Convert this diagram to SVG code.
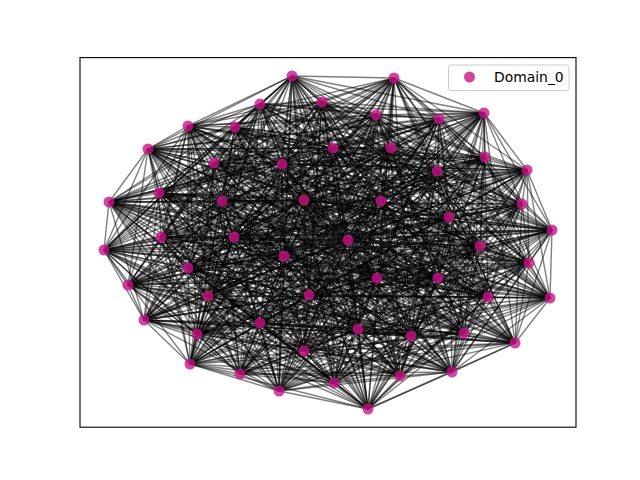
<svg xmlns="http://www.w3.org/2000/svg" width="640" height="480" viewBox="0 0 640 480">
<style>
.e path{fill:none;stroke:#000;stroke-opacity:0.5;stroke-width:1.4;stroke-linejoin:round}
.n{fill:#C71585;fill-opacity:0.8}
.t{font-family:"DejaVu Sans","Liberation Sans",sans-serif;font-size:13.9px;fill:#000}
</style>
<rect width="640" height="480" fill="#fff"/>
<g id="edges" class="e">
<path d="M480 246 529 263 550 298 438 278 488 297 515 343 464 333 377 278 452 372 411 336 400 376 358 329 368 409 334 383 304 351 279 391 309 295 240 374 260 323"/>
<path d="M260 323 190 364 197 334 208 296 144 320 284 256 128 285 188 268 104 250 161 237 234 237 109 202 159 193 222 201 148 149 214 163 188 126 235 127 282 164"/>
<path d="M282 164 304 200 260 104 292 76 322 102 333 148 376 115 394 78 391 148 439 119 484 113 381 201 437 171 485 157 527 170 449 217 522 204 348 240 552 230 480 246"/>
<path d="M480 246 550 298 488 297 464 333 452 372 400 376 368 409 304 351 309 295 260 323 197 334 144 320 128 285 104 250 234 237 159 193 148 149 188 126 282 164"/>
<path d="M282 164 260 104 322 102 376 115 391 148 484 113 437 171 527 170 522 204 552 230 529 263 438 278 515 343 377 278 411 336 358 329 334 383 279 391 240 374"/>
<path d="M240 374 190 364 208 296 284 256 188 268 161 237 109 202 222 201 214 163 235 127 304 200 292 76 333 148 394 78 439 119 381 201 485 157 449 217 348 240 480 246"/>
<path d="M480 246 438 278 464 333 411 336 368 409 279 391 260 323 208 296 128 285 161 237 159 193 214 163 282 164 292 76 376 115 439 119 437 171 449 217 552 230"/>
<path d="M552 230 550 298 515 343 452 372 358 329 304 351 240 374 197 334 284 256 104 250 109 202 148 149 235 127 260 104 333 148 391 148 381 201 527 170 348 240"/>
<path d="M348 240 529 263 488 297 377 278 400 376 334 383 309 295 190 364 144 320 188 268 234 237 222 201 188 126 304 200 322 102 394 78 484 113 485 157 522 204 480 246"/>
<path d="M480 246 488 297 452 372 368 409 309 295 197 334 128 285 234 237 148 149 282 164 322 102 391 148 437 171 522 204 529 263 515 343 411 336 334 383 240 374"/>
<path d="M240 374 208 296 188 268 109 202 214 163 304 200 333 148 439 119 485 157 348 240 550 298 464 333 400 376 304 351 260 323 144 320 104 250 159 193 188 126"/>
<path d="M188 126 260 104 376 115 484 113 527 170 552 230 438 278 377 278 358 329 279 391 190 364 284 256 161 237 222 201 235 127 292 76 394 78 381 201 449 217 480 246"/>
<path d="M480 246 464 333 368 409 260 323 128 285 159 193 282 164 376 115 437 171 552 230 515 343 358 329 240 374 284 256 109 202 235 127 333 148 381 201 348 240"/>
<path d="M348 240 488 297 400 376 309 295 144 320 234 237 188 126 322 102 484 113 522 204 438 278 411 336 279 391 208 296 161 237 214 163 292 76 439 119 449 217"/>
<path d="M449 217 550 298 452 372 304 351 197 334 104 250 148 149 260 104 391 148 527 170 529 263 377 278 334 383 190 364 188 268 222 201 304 200 394 78 485 157 480 246"/>
<path d="M480 246 377 278 304 351 208 296 234 237 235 127 376 115 485 157 529 263 452 372 279 391 144 320 109 202 282 164 394 78 527 170 550 298 411 336 309 295"/>
<path d="M309 295 284 256 159 193 304 200 391 148 449 217 438 278 400 376 240 374 128 285 222 201 260 104 439 119 522 204 488 297 358 329 260 323 188 268 148 149"/>
<path d="M148 149 292 76 484 113 348 240 515 343 368 409 190 364 104 250 214 163 322 102 381 201 552 230 464 333 334 383 197 334 161 237 188 126 333 148 437 171 480 246"/>
<path d="M480 246 452 372 309 295 128 285 148 149 322 102 437 171 529 263 411 336 240 374 188 268 214 163 333 148 485 157 550 298 400 376 260 323 104 250 188 126"/>
<path d="M188 126 376 115 527 170 438 278 358 329 190 364 161 237 235 127 394 78 449 217 488 297 368 409 197 334 234 237 282 164 391 148 522 204 515 343 334 383"/>
<path d="M334 383 208 296 109 202 304 200 439 119 348 240 464 333 304 351 144 320 159 193 260 104 484 113 552 230 377 278 279 391 284 256 222 201 292 76 381 201 480 246"/>
<path d="M480 246 411 336 260 323 161 237 282 164 439 119 552 230 452 372 240 374 104 250 235 127 391 148 348 240 377 278 309 295 188 268 188 126 394 78 522 204"/>
<path d="M522 204 464 333 279 391 128 285 214 163 376 115 449 217 515 343 304 351 284 256 148 149 333 148 527 170 488 297 334 383 144 320 222 201 322 102 485 157"/>
<path d="M485 157 438 278 368 409 208 296 159 193 292 76 437 171 550 298 358 329 197 334 109 202 260 104 381 201 529 263 400 376 190 364 234 237 304 200 484 113 480 246"/>
<path d="M480 246 368 409 128 285 282 164 437 171 515 343 240 374 109 202 333 148 348 240 400 376 144 320 188 126 484 113 438 278 279 391 161 237 292 76 449 217"/>
<path d="M449 217 452 372 197 334 148 149 391 148 529 263 334 383 188 268 304 200 485 157 464 333 260 323 159 193 376 115 552 230 358 329 284 256 235 127 381 201"/>
<path d="M381 201 488 297 309 295 234 237 322 102 522 204 411 336 208 296 214 163 439 119 550 298 304 351 104 250 260 104 527 170 377 278 190 364 222 201 394 78 480 246"/>
<path d="M480 246 334 383 104 250 292 76 522 204 400 376 284 256 282 164 485 157 377 278 197 334 214 163 484 113 488 297 240 374 159 193 394 78 529 263 304 351"/>
<path d="M304 351 161 237 322 102 348 240 358 329 128 285 304 200 527 170 452 372 208 296 188 126 381 201 515 343 260 323 222 201 391 148 550 298 279 391 234 237"/>
<path d="M234 237 333 148 552 230 368 409 188 268 260 104 449 217 411 336 144 320 235 127 437 171 464 333 190 364 148 149 439 119 438 278 309 295 109 202 376 115 480 246"/>
<path d="M480 246 304 351 234 237 376 115 529 263 279 391 109 202 394 78 550 298 309 295 159 193 391 148 438 278 240 374 222 201 439 119 488 297 260 323 148 149"/>
<path d="M148 149 484 113 515 343 190 364 214 163 381 201 464 333 197 334 188 126 437 171 377 278 208 296 235 127 485 157 452 372 144 320 282 164 527 170 411 336"/>
<path d="M411 336 284 256 304 200 449 217 400 376 128 285 260 104 522 204 358 329 188 268 292 76 348 240 368 409 104 250 322 102 552 230 334 383 161 237 333 148 480 246"/>
<path d="M480 246 309 295 148 149 437 171 411 336 188 268 333 148 550 298 260 323 188 126 527 170 358 329 161 237 394 78 488 297 197 334 282 164 522 204 334 383"/>
<path d="M334 383 109 202 439 119 464 333 144 320 260 104 552 230 279 391 222 201 381 201 452 372 128 285 322 102 529 263 240 374 214 163 485 157 400 376 104 250"/>
<path d="M104 250 376 115 438 278 190 364 235 127 449 217 368 409 234 237 391 148 515 343 208 296 304 200 348 240 304 351 159 193 484 113 377 278 284 256 292 76 480 246"/>
<path d="M480 246 240 374 188 126 449 217 334 383 159 193 381 201 411 336 104 250 394 78 515 343 144 320 292 76 529 263 260 323 235 127 522 204 304 351 222 201"/>
<path d="M222 201 437 171 400 376 161 237 391 148 464 333 284 256 322 102 550 298 190 364 282 164 348 240 279 391 148 149 485 157 358 329 234 237 439 119 377 278"/>
<path d="M377 278 128 285 333 148 438 278 197 334 304 200 552 230 309 295 214 163 527 170 368 409 109 202 484 113 452 372 188 268 376 115 488 297 208 296 260 104 480 246"/>
<path d="M480 246 190 364 260 104 550 298 208 296 322 102 488 297 284 256 376 115 464 333 188 268 391 148 452 372 161 237 484 113 400 376 109 202 437 171 368 409"/>
<path d="M368 409 222 201 527 170 304 351 214 163 522 204 309 295 235 127 552 230 260 323 304 200 529 263 197 334 292 76 438 278 144 320 333 148 515 343 128 285"/>
<path d="M128 285 394 78 377 278 104 250 439 119 411 336 234 237 381 201 358 329 159 193 485 157 334 383 148 149 449 217 279 391 188 126 348 240 240 374 282 164 480 246"/>
<path d="M480 246 208 296 376 115 452 372 109 202 527 170 309 295 304 200 438 278 128 285 439 119 358 329 148 149 348 240 190 364 322 102 464 333 161 237 437 171"/>
<path d="M437 171 304 351 235 127 529 263 144 320 394 78 411 336 159 193 449 217 240 374 260 104 488 297 188 268 484 113 368 409 214 163 552 230 197 334 333 148"/>
<path d="M333 148 377 278 234 237 485 157 279 391 282 164 550 298 284 256 391 148 400 376 222 201 522 204 260 323 292 76 515 343 104 250 381 201 334 383 188 126 480 246"/>
<path d="M480 246 284 256 484 113 304 351 304 200 515 343 234 237 449 217 190 364 376 115 400 376 214 163 529 263 128 285 381 201 279 391 260 104 464 333 109 202"/>
<path d="M109 202 522 204 197 334 394 78 358 329 188 126 550 298 188 268 437 171 309 295 292 76 377 278 159 193 348 240 208 296 391 148 368 409 235 127 438 278"/>
<path d="M438 278 104 250 485 157 240 374 322 102 452 372 222 201 552 230 144 320 439 119 334 383 282 164 488 297 161 237 527 170 260 323 333 148 411 336 148 149 480 246"/>
<path d="M480 246 128 285 437 171 240 374 333 148 400 376 188 126 438 278 161 237 449 217 197 334 391 148 334 383 304 200 464 333 159 193 552 230 284 256 381 201"/>
<path d="M381 201 309 295 322 102 411 336 214 163 550 298 104 250 527 170 190 364 394 78 368 409 282 164 515 343 109 202 348 240 144 320 484 113 279 391 292 76"/>
<path d="M292 76 452 372 148 149 529 263 188 268 485 157 260 323 376 115 358 329 235 127 488 297 234 237 522 204 208 296 439 119 304 351 260 104 377 278 222 201 480 246"/>
<path d="M480 246 104 250 522 204 284 256 485 157 197 334 484 113 240 374 394 78 304 351 322 102 358 329 304 200 452 372 188 126 515 343 222 201 550 298 234 237"/>
<path d="M234 237 552 230 188 268 449 217 144 320 437 171 190 364 439 119 309 295 376 115 334 383 292 76 400 376 282 164 377 278 214 163 488 297 159 193 529 263"/>
<path d="M529 263 161 237 348 240 128 285 527 170 208 296 381 201 260 323 391 148 279 391 333 148 368 409 260 104 411 336 235 127 464 333 148 149 438 278 109 202 480 246"/>
<path d="M480 246 161 237 552 230 104 250 348 240 188 268 522 204 128 285 449 217 284 256 527 170 144 320 485 157 208 296 437 171 197 334 381 201 190 364 484 113"/>
<path d="M484 113 260 323 439 119 240 374 391 148 309 295 394 78 279 391 376 115 304 351 333 148 334 383 322 102 368 409 292 76 358 329 260 104 400 376 304 200"/>
<path d="M304 200 411 336 282 164 452 372 235 127 377 278 188 126 464 333 214 163 515 343 148 149 488 297 222 201 438 278 159 193 550 298 109 202 529 263 234 237 480 246"/>
<path d="M188 126 292 76"/>
</g>
<g id="n1"><circle class="n" cx="292" cy="76" r="5.5"/></g>
<g id="n2"><circle class="n" cx="394" cy="78" r="5.5"/></g>
<g id="n3"><circle class="n" cx="260" cy="104" r="5.5"/></g>
<g id="n4"><circle class="n" cx="322" cy="102" r="5.5"/></g>
<g id="n5"><circle class="n" cx="376" cy="115" r="5.5"/></g>
<g id="n6"><circle class="n" cx="484" cy="113" r="5.5"/></g>
<g id="n7"><circle class="n" cx="188" cy="126" r="5.5"/></g>
<g id="n8"><circle class="n" cx="235" cy="127" r="5.5"/></g>
<g id="n9"><circle class="n" cx="439" cy="119" r="5.5"/></g>
<g id="n10"><circle class="n" cx="148" cy="149" r="5.5"/></g>
<g id="n11"><circle class="n" cx="333" cy="148" r="5.5"/></g>
<g id="n12"><circle class="n" cx="391" cy="148" r="5.5"/></g>
<g id="n13"><circle class="n" cx="485" cy="157" r="5.5"/></g>
<g id="n14"><circle class="n" cx="214" cy="163" r="5.5"/></g>
<g id="n15"><circle class="n" cx="282" cy="164" r="5.5"/></g>
<g id="n16"><circle class="n" cx="437" cy="171" r="5.5"/></g>
<g id="n17"><circle class="n" cx="527" cy="170" r="5.5"/></g>
<g id="n18"><circle class="n" cx="159" cy="193" r="5.5"/></g>
<g id="n19"><circle class="n" cx="109" cy="202" r="5.5"/></g>
<g id="n20"><circle class="n" cx="222" cy="201" r="5.5"/></g>
<g id="n21"><circle class="n" cx="304" cy="200" r="5.5"/></g>
<g id="n22"><circle class="n" cx="381" cy="201" r="5.5"/></g>
<g id="n23"><circle class="n" cx="522" cy="204" r="5.5"/></g>
<g id="n24"><circle class="n" cx="449" cy="217" r="5.5"/></g>
<g id="n25"><circle class="n" cx="552" cy="230" r="5.5"/></g>
<g id="n26"><circle class="n" cx="161" cy="237" r="5.5"/></g>
<g id="n27"><circle class="n" cx="234" cy="237" r="5.5"/></g>
<g id="n28"><circle class="n" cx="348" cy="240" r="5.5"/></g>
<g id="n29"><circle class="n" cx="104" cy="250" r="5.5"/></g>
<g id="n30"><circle class="n" cx="480" cy="246" r="5.5"/></g>
<g id="n31"><circle class="n" cx="284" cy="256" r="5.5"/></g>
<g id="n32"><circle class="n" cx="529" cy="263" r="5.5"/></g>
<g id="n33"><circle class="n" cx="188" cy="268" r="5.5"/></g>
<g id="n34"><circle class="n" cx="377" cy="278" r="5.5"/></g>
<g id="n35"><circle class="n" cx="438" cy="278" r="5.5"/></g>
<g id="n36"><circle class="n" cx="128" cy="285" r="5.5"/></g>
<g id="n37"><circle class="n" cx="208" cy="296" r="5.5"/></g>
<g id="n38"><circle class="n" cx="309" cy="295" r="5.5"/></g>
<g id="n39"><circle class="n" cx="488" cy="297" r="5.5"/></g>
<g id="n40"><circle class="n" cx="550" cy="298" r="5.5"/></g>
<g id="n41"><circle class="n" cx="144" cy="320" r="5.5"/></g>
<g id="n42"><circle class="n" cx="260" cy="323" r="5.5"/></g>
<g id="n43"><circle class="n" cx="358" cy="329" r="5.5"/></g>
<g id="n44"><circle class="n" cx="464" cy="333" r="5.5"/></g>
<g id="n45"><circle class="n" cx="197" cy="334" r="5.5"/></g>
<g id="n46"><circle class="n" cx="411" cy="336" r="5.5"/></g>
<g id="n47"><circle class="n" cx="515" cy="343" r="5.5"/></g>
<g id="n48"><circle class="n" cx="304" cy="351" r="5.5"/></g>
<g id="n49"><circle class="n" cx="190" cy="364" r="5.5"/></g>
<g id="n50"><circle class="n" cx="240" cy="374" r="5.5"/></g>
<g id="n51"><circle class="n" cx="452" cy="372" r="5.5"/></g>
<g id="n52"><circle class="n" cx="400" cy="376" r="5.5"/></g>
<g id="n53"><circle class="n" cx="334" cy="383" r="5.5"/></g>
<g id="n54"><circle class="n" cx="279" cy="391" r="5.5"/></g>
<g id="n55"><circle class="n" cx="368" cy="409" r="5.5"/></g>
<rect x="80" y="57.6" width="496" height="369.6" fill="none" stroke="#000" stroke-width="1.1"/>
<g id="legend">
<rect x="448.5" y="65" width="120.5" height="25.5" rx="2.5" fill="#fff" fill-opacity="0.8" stroke="#ccc" stroke-width="1"/>
<circle class="n" cx="469.5" cy="77" r="5.5"/>
<text class="t" x="494" y="81.5">Domain_0</text>
</g>
</svg>
